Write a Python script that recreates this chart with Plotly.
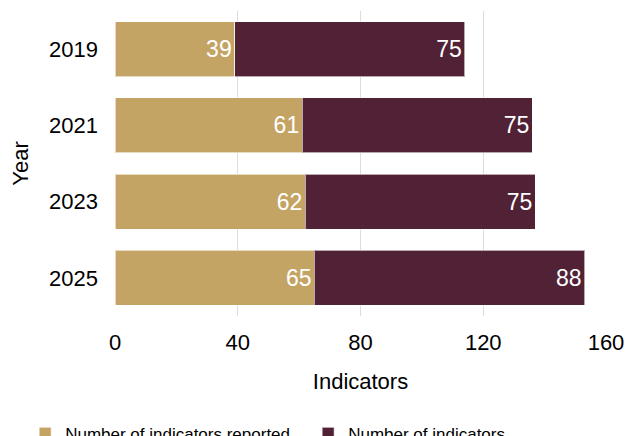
import plotly.graph_objects as go

years = ["2019", "2021", "2023", "2025"]
reported = [39, 61, 62, 65]
indicators = [75, 75, 75, 88]

font_family = "Liberation Sans, Arial, sans-serif"

fig = go.Figure()
fig.add_trace(go.Bar(
    y=years, x=reported, orientation="h", name="Number of indicators reported",
    marker=dict(color="#C4A464", line=dict(color="rgba(255,255,255,0.6)", width=1)),
    text=reported, textposition="inside", insidetextanchor="end",
    textfont=dict(color="white", size=23, family=font_family),
))
fig.add_trace(go.Bar(
    y=years, x=indicators, orientation="h", name="Number of indicators",
    marker=dict(color="#512236", line=dict(color="rgba(255,255,255,0.6)", width=1)),
    text=indicators, textposition="inside", insidetextanchor="end",
    textfont=dict(color="white", size=23, family=font_family),
))

fig.update_layout(
    barmode="stack",
    bargap=0.28,
    width=626, height=436,
    margin=dict(l=114.5, r=20.3, t=11, b=120, autoexpand=False),
    paper_bgcolor="white", plot_bgcolor="white",
    font=dict(family=font_family, color="black", size=22),
    uniformtext=dict(minsize=23, mode="show"),
    showlegend=True,
    legend=dict(orientation="h", x=-0.183, xanchor="left", xref="paper",
                y=-0.386, yanchor="middle", font=dict(size=17, color="black"),
                traceorder="normal", entrywidth=238, entrywidthmode="pixels"),
    xaxis=dict(range=[0, 160], tickvals=[0, 40, 80, 120, 160],
               showgrid=True, gridcolor="#dddddd", gridwidth=1,
               zeroline=False, showline=False, ticks="", automargin=False,
               tickfont=dict(size=22), ticklabelstandoff=11,
               title=dict(text="Indicators", font=dict(size=22), standoff=19)),
    yaxis=dict(autorange="reversed", showgrid=False, zeroline=False,
               showline=False, ticks="", automargin=False, tickfont=dict(size=22),
               ticklabelstandoff=16,
               title=dict(text="Year", font=dict(size=22), standoff=14)),
)

fig.write_html(
    "out.html",
    config={"displayModeBar": False},
    post_script="document.body.style.margin='0';document.body.style.overflow='hidden';",
)
